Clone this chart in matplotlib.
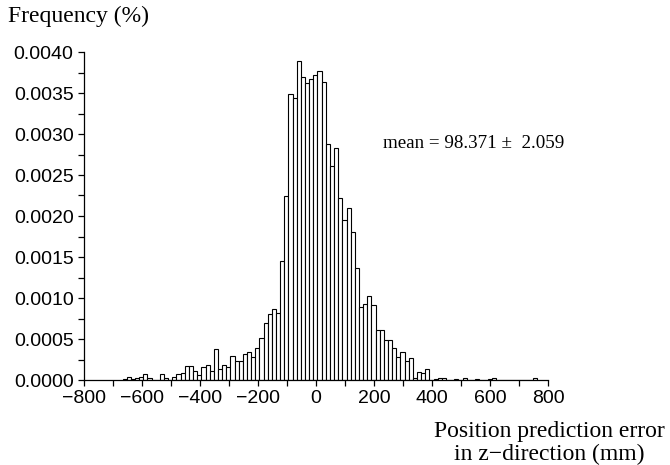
import matplotlib
matplotlib.use("Agg")
import matplotlib.pyplot as plt
import numpy as np
from matplotlib.ticker import MultipleLocator, FormatStrFormatter

# ---- data ----
bin_start = -667.0
bin_width = 14.3
frequency = [
    0.00001, 0.00004, 0.00001, 0.00002, 0.00004, 0.00007, 0.00002, 0.000005, 0.000005, 0.00007,
    0.00002, 0.000005, 0.00004, 0.00007, 0.00009, 0.00017, 0.00017, 0.00011, 0.00006, 0.000155,
    0.000185, 0.000104, 0.000378, 0.000134, 0.000185, 0.000154, 0.000297, 0.000232, 0.000232, 0.000313,
    0.000346, 0.00028, 0.000394, 0.000508, 0.0007, 0.0008, 0.000862, 0.000813, 0.001455, 0.00225,
    0.00349, 0.003443, 0.00389, 0.0037, 0.00362, 0.00367, 0.00372, 0.00377, 0.00363, 0.002876,
    0.002605, 0.00283, 0.00222, 0.00195, 0.0021, 0.00181, 0.00137, 0.000894, 0.00093, 0.00102,
    0.00091, 0.00061, 0.00061, 0.00049, 0.00049, 0.000396, 0.00028, 0.000346, 0.00023, 0.000264,
    0.00003, 0.0001, 0.00008, 0.00013, 0.0, 0.00001, 0.00003, 0.00002, 0.000005, 0.0,
    0.00001, 0.0, 0.00003, 0.000005, 0.0, 0.00001, 0.000005, 0.0, 0.00001, 0.00002,
    0.0, 0.0, 0.0, 0.0, 0.0, 0.0, 0.0, 0.0, 0.0, 0.00002,
]
x_ticks = [-800, -600, -400, -200, 0, 200, 400, 600, 800]
y_label = "Frequency (%)"
x_label_1 = "Position prediction error"
x_label_2 = "in z\u2212direction (mm)"
annotation = "mean = 98.371 \u00b1  2.059"

edges = bin_start + bin_width * np.arange(len(frequency))

W, H = 670, 465
fig = plt.figure(figsize=(W / 100, H / 100), dpi=100)
ax = fig.add_axes([84 / W, 1 - 380 / H, 464 / W, 328 / H])

ax.bar(edges, frequency, width=bin_width, align="edge", color="white",
       edgecolor="black", linewidth=0.8, zorder=2)

ax.set_xlim(-800, 800)
ax.set_ylim(0, 0.004)
for s in ("top", "right"):
    ax.spines[s].set_visible(False)
for s in ("left", "bottom"):
    ax.spines[s].set_linewidth(0.9)

ax.set_xticks(x_ticks)
ax.xaxis.set_minor_locator(MultipleLocator(100))
ax.yaxis.set_major_locator(MultipleLocator(0.0005))
ax.yaxis.set_minor_locator(MultipleLocator(0.00025))
ax.yaxis.set_major_formatter(FormatStrFormatter("%.4f"))
ax.tick_params(which="both", direction="out", width=0.9)
ax.tick_params(which="major", length=4.5, pad=3)
ax.tick_params(which="minor", length=4.0)
for lab in ax.get_xticklabels() + ax.get_yticklabels():
    lab.set_fontfamily("Liberation Sans")
    lab.set_fontsize(14)

serif = "Liberation Serif"
fig.text(8 / W, 1 - 22 / H, y_label, family=serif, fontsize=17, ha="left", va="baseline")
fig.text(549 / W, 1 - 437 / H, x_label_1, family=serif, fontsize=17, ha="center", va="baseline")
fig.text(549 / W, 1 - 460 / H, x_label_2, family=serif, fontsize=17, ha="center", va="baseline")
fig.text(383 / W, 1 - 148 / H, annotation, family=serif, fontsize=13.7, ha="left", va="baseline")

fig.savefig("out.png", dpi=100)
